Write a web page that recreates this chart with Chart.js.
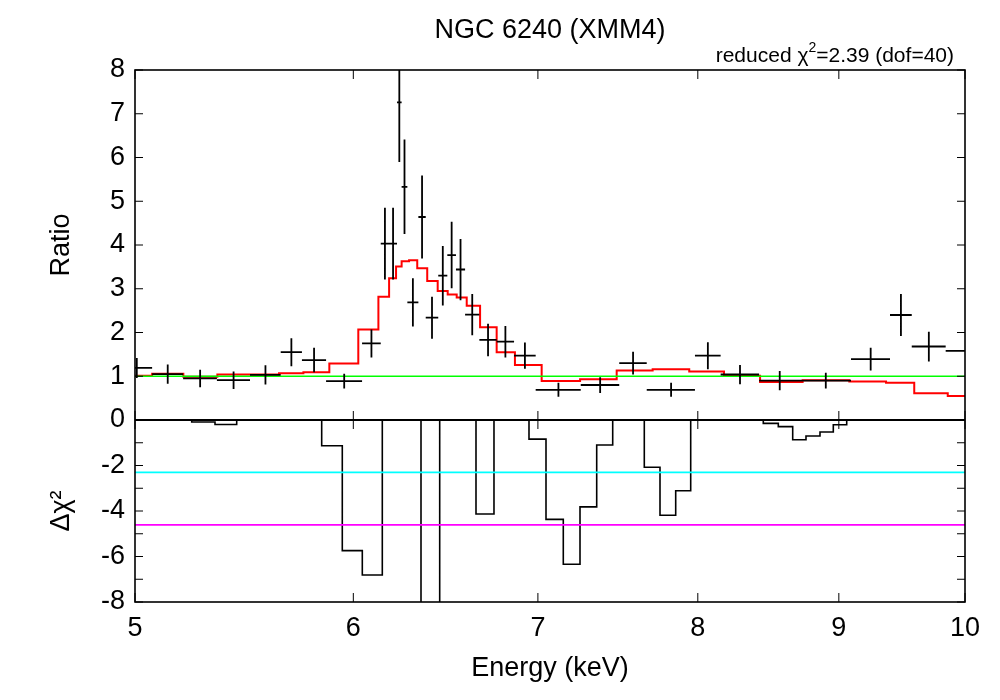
<!DOCTYPE html>
<html>
<head>
<meta charset="utf-8">
<script src="https://cdn.jsdelivr.net/npm/chart.js@4.4.0/dist/chart.umd.min.js"></script>
<style>
html, body { margin: 0; padding: 0; background: #fff; }
#wrap { width: 1000px; height: 700px; position: relative; }
</style>
</head>
<body>
<div id="wrap"><canvas id="spec" width="1000" height="700"></canvas></div>
<script>
// energy axis ticks (keV)
const energyTicks = [5, 6, 7, 8, 9, 10];

// data bins: lower / upper edge in keV, data/model ratio and 1-sigma error
const binLo = [4.943, 5.072, 5.205, 5.354, 5.504, 5.647, 5.748, 5.865, 6.044, 6.139,
               6.182, 6.223, 6.247, 6.277, 6.335, 6.374, 6.441, 6.490, 6.537, 6.587,
               6.666, 6.763, 6.862, 6.987, 7.255, 7.492, 7.666, 7.981, 8.154, 8.420,
               8.713, 9.092, 9.393, 9.565, 9.840];
const binHi = [5.072, 5.205, 5.354, 5.504, 5.647, 5.748, 5.865, 6.044, 6.139, 6.182,
               6.223, 6.247, 6.277, 6.335, 6.374, 6.441, 6.490, 6.537, 6.587, 6.666,
               6.763, 6.862, 6.987, 7.255, 7.492, 7.666, 7.981, 8.154, 8.420, 8.713,
               9.092, 9.393, 9.565, 9.840, 10.40];
const ratio = [1.19, 1.05, 0.95, 0.91, 1.03, 1.55, 1.37, 0.89, 1.75, 4.03,
               4.03, 7.26, 5.33, 2.69, 4.64, 2.34, 3.30, 3.77, 3.44, 2.41,
               1.83, 1.79, 1.47, 0.69, 0.80, 1.30, 0.69, 1.47, 1.04, 0.90,
               0.90, 1.39, 2.40, 1.68, 1.58];
const ratioErr = [0.23, 0.22, 0.20, 0.20, 0.22, 0.32, 0.28, 0.17, 0.32, 0.82,
                  0.82, 1.36, 1.08, 0.55, 0.95, 0.48, 0.68, 0.76, 0.70, 0.47,
                  0.37, 0.36, 0.30, 0.16, 0.18, 0.26, 0.16, 0.31, 0.22, 0.22,
                  0.18, 0.26, 0.48, 0.34, 0.30];

// model step line (edges keV, one value per step)
const modelEdges = [4.943, 5.072, 5.206, 5.356, 5.504, 5.639, 5.755, 5.881, 6.025, 6.127,
                    6.182, 6.218, 6.247, 6.286, 6.329, 6.382, 6.438, 6.492, 6.541, 6.596,
                    6.670, 6.763, 6.867, 7.022, 7.251, 7.476, 7.704, 7.943, 8.177, 8.427,
                    8.732, 9.079, 9.362, 9.585, 9.857, 10.40];
const modelRatio = [1.01, 1.06, 0.99, 1.04, 1.04, 1.07, 1.09, 1.29, 2.07, 2.82,
                    3.24, 3.51, 3.63, 3.65, 3.47, 3.18, 2.95, 2.87, 2.80, 2.61,
                    2.12, 1.55, 1.26, 0.89, 0.93, 1.13, 1.16, 1.11, 1.01, 0.87,
                    0.91, 0.88, 0.85, 0.61, 0.55];

// delta chi^2 histogram (edges keV, one value per step)
const resEdges = [4.943, 5.2425, 5.3455, 5.4432, 5.8436, 5.9450, 6.0452, 6.1470, 6.3489, 6.4488,
                  6.6473, 6.7479, 6.9481, 7.0475, 7.1500, 7.2505, 7.3523, 7.4512, 7.6504, 7.7514,
                  7.8537, 7.9527, 8.4497, 8.5563, 8.6598, 8.7565, 8.8595, 8.9585, 9.0593, 10.40];
const resValues = [0, -0.09, -0.2, 0, -1.13, -5.74, -6.81, 0, -9, 0,
                   -4.13, 0, -0.84, -4.37, -6.34, -3.82, -1.10, 0, -2.08, -4.19,
                   -3.11, 0, -0.15, -0.29, -0.87, -0.70, -0.53, -0.21, 0];

// reference levels
const unityLevel = 1;
const chiLevel68 = -2.30;
const chiLevel90 = -4.61;

const FONT = '"Liberation Sans", Arial, Helvetica, sans-serif';

// step points: last value repeated on the closing edge
function steps(edges, vals) {
  return edges.map((e, i) => ({ x: e, y: vals[Math.min(i, vals.length - 1)] }));
}
function flat(level) {
  return [{ x: 4.9, y: level }, { x: 10.5, y: level }];
}

const gnuFrame = {
  id: 'gnuFrame',
  afterDatasetsDraw(chart) {
    const { ctx, chartArea: a, scales } = chart;
    const xs = scales.x, yr = scales.yRatio, yd = scales.yRes;

    // data crosses
    ctx.save();
    ctx.beginPath();
    ctx.rect(a.left, a.top, a.right - a.left, a.bottom - a.top);
    ctx.clip();
    ctx.strokeStyle = '#000';
    ctx.lineWidth = 1.8;
    ctx.beginPath();
    for (let i = 0; i < ratio.length; i++) {
      const xc = xs.getPixelForValue((binLo[i] + binHi[i]) / 2);
      const yc = yr.getPixelForValue(ratio[i]);
      ctx.moveTo(xs.getPixelForValue(binLo[i]), yc);
      ctx.lineTo(xs.getPixelForValue(binHi[i]), yc);
      ctx.moveTo(xc, yr.getPixelForValue(ratio[i] - ratioErr[i]));
      ctx.lineTo(xc, yr.getPixelForValue(ratio[i] + ratioErr[i]));
    }
    ctx.stroke();
    ctx.restore();

    // frame, zero line, inward ticks
    ctx.save();
    ctx.strokeStyle = '#000';
    const y0 = yr.getPixelForValue(0);
    ctx.lineWidth = 2;
    ctx.beginPath();
    ctx.moveTo(a.left, y0); ctx.lineTo(a.right, y0);
    ctx.stroke();
    ctx.lineWidth = 1.6;
    ctx.strokeRect(a.left, a.top, a.right - a.left, a.bottom - a.top);
    ctx.lineWidth = 1;
    ctx.beginPath();
    const tl = 9;
    energyTicks.forEach(v => {
      const x = xs.getPixelForValue(v);
      ctx.moveTo(x, a.top); ctx.lineTo(x, a.top + tl);
      ctx.moveTo(x, y0 - tl); ctx.lineTo(x, y0 + tl);
      ctx.moveTo(x, a.bottom); ctx.lineTo(x, a.bottom - tl);
    });
    [yr, yd].forEach(s => {
      s.ticks.forEach(t => {
        const y = s.getPixelForValue(t.value);
        ctx.moveTo(a.left, y); ctx.lineTo(a.left + 8, y);
        ctx.moveTo(a.right, y); ctx.lineTo(a.right - 8, y);
      });
    });
    ctx.stroke();
    ctx.restore();
  },
  afterDraw(chart) {
    const ctx = chart.ctx;
    const a = chart.chartArea;
    ctx.save();
    ctx.fillStyle = '#000';
    ctx.textBaseline = 'alphabetic';
    ctx.font = '27px ' + FONT;
    ctx.textAlign = 'center';
    ctx.fillText('NGC 6240 (XMM4)', (a.left + a.right) / 2, 38);

    // reduced chi^2 note, right aligned
    const big = '21px ' + FONT, small = '14px ' + FONT;
    const p1 = 'reduced \u03c7', p2 = '2', p3 = '=2.39 (dof=40)';
    ctx.font = big;
    const w1 = ctx.measureText(p1).width, w3 = ctx.measureText(p3).width;
    ctx.font = small;
    const w2 = ctx.measureText(p2).width;
    let x = 954 - (w1 + w2 + w3);
    ctx.textAlign = 'left';
    ctx.font = big; ctx.fillText(p1, x, 62); x += w1;
    ctx.font = small; ctx.fillText(p2, x, 52); x += w2;
    ctx.font = big; ctx.fillText(p3, x, 62);
    ctx.restore();
  }
};

Chart.defaults.font.family = FONT;
Chart.defaults.color = '#000';

new Chart(document.getElementById('spec'), {
  type: 'line',
  data: {
    datasets: [
      { data: flat(unityLevel), yAxisID: 'yRatio', borderColor: '#00ff00', borderWidth: 1.5, pointRadius: 0 },
      { data: steps(modelEdges, modelRatio), yAxisID: 'yRatio', stepped: 'before', borderColor: '#ff0000', borderWidth: 2, pointRadius: 0 },
      { data: flat(chiLevel68), yAxisID: 'yRes', borderColor: '#00ffff', borderWidth: 1.8, pointRadius: 0 },
      { data: flat(chiLevel90), yAxisID: 'yRes', borderColor: '#ff00ff', borderWidth: 1.8, pointRadius: 0 },
      { data: steps(resEdges, resValues), yAxisID: 'yRes', stepped: 'before', borderColor: '#000', borderWidth: 1.6, pointRadius: 0 }
    ]
  },
  options: {
    responsive: false,
    animation: false,
    devicePixelRatio: 1,
    layout: { padding: { top: 70, right: 35, left: 0, bottom: 0 } },
    plugins: { legend: { display: false }, tooltip: { enabled: false } },
    scales: {
      x: {
        type: 'logarithmic', min: 5, max: 10,
        grid: { display: false, drawTicks: false }, border: { display: false },
        afterBuildTicks: s => { s.ticks = energyTicks.map(v => ({ value: v })); },
        afterFit: s => { s.height = 98; },
        ticks: { autoSkip: false, maxRotation: 0, padding: 10, font: { size: 27 }, callback: v => String(v) },
        title: { display: true, text: 'Energy (keV)', font: { size: 27 }, padding: { top: 0, bottom: 15 } }
      },
      yRes: {
        type: 'linear', position: 'left', stack: 'panels', stackWeight: 182, weight: 1,
        min: -8, max: 0,
        grid: { display: false, drawTicks: false }, border: { display: false },
        afterFit: s => { s.width = 135; },
        ticks: { stepSize: 1, autoSkip: false, padding: 10, font: { size: 27 },
                 callback: v => (v % 2 === 0 && v !== 0) ? String(v) : '' },
        title: { display: true, text: '\u0394\u03c7\u00b2', font: { size: 27 }, padding: { top: 45 } }
      },
      yRatio: {
        type: 'linear', position: 'left', stack: 'panels', stackWeight: 350, weight: 2,
        min: 0, max: 8,
        grid: { display: false, drawTicks: false }, border: { display: false },
        afterFit: s => { s.width = 135; },
        ticks: { stepSize: 1, autoSkip: false, padding: 10, font: { size: 27 } },
        title: { display: true, text: 'Ratio', font: { size: 27 }, padding: { top: 45 } }
      }
    }
  },
  plugins: [gnuFrame]
});
</script>
</body>
</html>
